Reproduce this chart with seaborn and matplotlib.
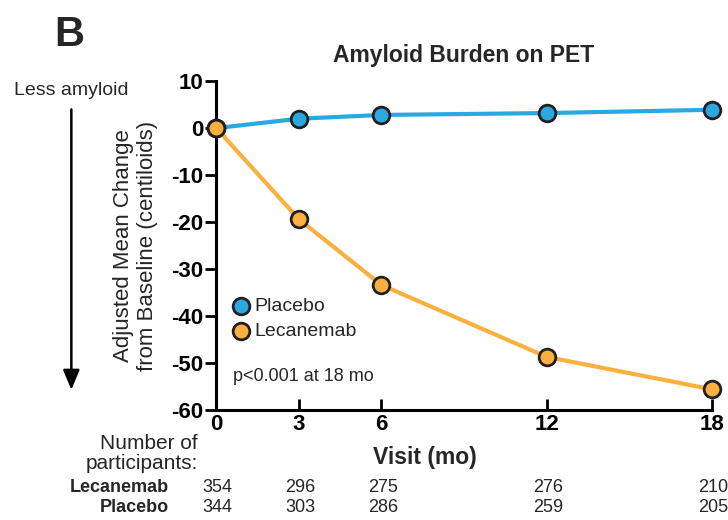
import numpy as np
import pandas as pd
import matplotlib
matplotlib.use("Agg")
import matplotlib.pyplot as plt
import matplotlib.transforms as mtransforms
import seaborn as sns

months = [0, 3, 6, 12, 18]
placebo = [0.0, 2.0, 2.8, 3.2, 3.9]
lecanemab = [0.0, -19.4, -33.4, -48.7, -55.6]
placebo_err = [0.0, 0.7, 0.9, 0.9, 0.7]
lecanemab_err = [0.0, 0.9, 0.9, 0.9, 0.9]
n_lecanemab = [354, 296, 275, 276, 210]
n_placebo = [344, 303, 286, 259, 205]
y_ticks = [10, 0, -10, -20, -30, -40, -50, -60]

blue = "#29A9E0"
orange = "#FBB03F"
edge = "#231F20"

sns.set_theme(style="ticks")
plt.rcParams["font.family"] = ["Liberation Sans", "DejaVu Sans"]

df = pd.DataFrame({
    "Visit": months * 2,
    "Change": placebo + lecanemab,
    "Group": ["Placebo"] * 5 + ["Lecanemab"] * 5,
})

fig = plt.figure(figsize=(7.28, 5.2), dpi=100)
ax = fig.add_axes([0.297, 0.2115, 0.681, 0.6325])

ax.errorbar(months, placebo, yerr=placebo_err, fmt="none", ecolor=edge,
            elinewidth=1.5, capsize=5, capthick=2, zorder=2)
ax.errorbar(months, lecanemab, yerr=lecanemab_err, fmt="none", ecolor=edge,
            elinewidth=1.5, capsize=5, capthick=2, zorder=2)

sns.lineplot(data=df, x="Visit", y="Change", hue="Group",
             hue_order=["Placebo", "Lecanemab"],
             palette={"Placebo": blue, "Lecanemab": orange},
             marker="o", markersize=12, markeredgecolor=edge, markeredgewidth=2,
             linewidth=3, ax=ax, legend=False, zorder=3)
ax.plot([0], [lecanemab[0]], marker="o", markersize=12, color=orange,
        markeredgecolor=edge, markeredgewidth=2, zorder=5, clip_on=False)
for ln in ax.lines:
    ln.set_clip_on(False)

ax.set_xlim(0, 18)
ax.set_ylim(-60, 10)
ax.set_xticks(months)
ax.set_yticks(y_ticks)
ax.set_xticklabels([str(m) for m in months], fontsize=16, fontweight="bold")
ax.set_yticklabels([str(t) for t in y_ticks], fontsize=16, fontweight="bold")
ax.tick_params(axis="x", direction="in", length=8, width=2, pad=3, colors="black")
ax.tick_params(axis="y", direction="out", length=8, width=2, pad=1, colors="black")
for s in ["left", "bottom"]:
    ax.spines[s].set_linewidth(2.2)
    ax.spines[s].set_color("black")
sns.despine(ax=ax)
ax.set_xlabel("Visit (mo)", fontsize=16.5, fontweight="bold", labelpad=2)
ax.xaxis.set_label_coords(0.42, -0.11)
ax.set_ylabel("Adjusted Mean Change\nfrom Baseline (centiloids)", fontsize=16,
              labelpad=10, linespacing=1.15)
ax.set_title("Amyloid Burden on PET", fontsize=16.5, fontweight="bold", pad=14,
             x=0.5)

# legend
ax.plot([0.9], [-37.9], marker="o", markersize=12, color=blue,
        markeredgecolor=edge, markeredgewidth=2, linestyle="none")
ax.plot([0.9], [-43.2], marker="o", markersize=12, color=orange,
        markeredgecolor=edge, markeredgewidth=2, linestyle="none")
ax.text(1.4, -37.9, "Placebo", fontsize=14, va="center", ha="left")
ax.text(1.4, -43.2, "Lecanemab", fontsize=14, va="center", ha="left")
ax.text(0.6, -52.8, "p<0.001 at 18 mo", fontsize=13, va="center", ha="left")

# panel letter, arrow
fig.text(0.075, 0.932, "B", fontsize=30, fontweight="bold", ha="left", va="center")
fig.text(0.098, 0.826, "Less amyloid", fontsize=14, ha="center", va="center")
fig.add_artist(matplotlib.patches.FancyArrowPatch(
    (0.098, 0.795), (0.098, 0.245), transform=fig.transFigure,
    arrowstyle="-|>,head_length=12,head_width=5", color="black", lw=1.8,
    mutation_scale=1))

# participant table
trans = mtransforms.blended_transform_factory(ax.transData, fig.transFigure)
fig.text(0.272, 0.128, "Number of\nparticipants:", fontsize=15, ha="right",
         va="center", linespacing=1.1)
fig.text(0.232, 0.063, "Lecanemab", fontsize=13, fontweight="bold", ha="right", va="center")
fig.text(0.232, 0.024, "Placebo", fontsize=13, fontweight="bold", ha="right", va="center")
for m, a, b in zip(months, n_lecanemab, n_placebo):
    ax.text(m + 0.05, 0.063, str(a), transform=trans, fontsize=13, ha="center", va="center")
    ax.text(m + 0.05, 0.024, str(b), transform=trans, fontsize=13, ha="center", va="center")

fig.savefig("out.png", dpi=100)
